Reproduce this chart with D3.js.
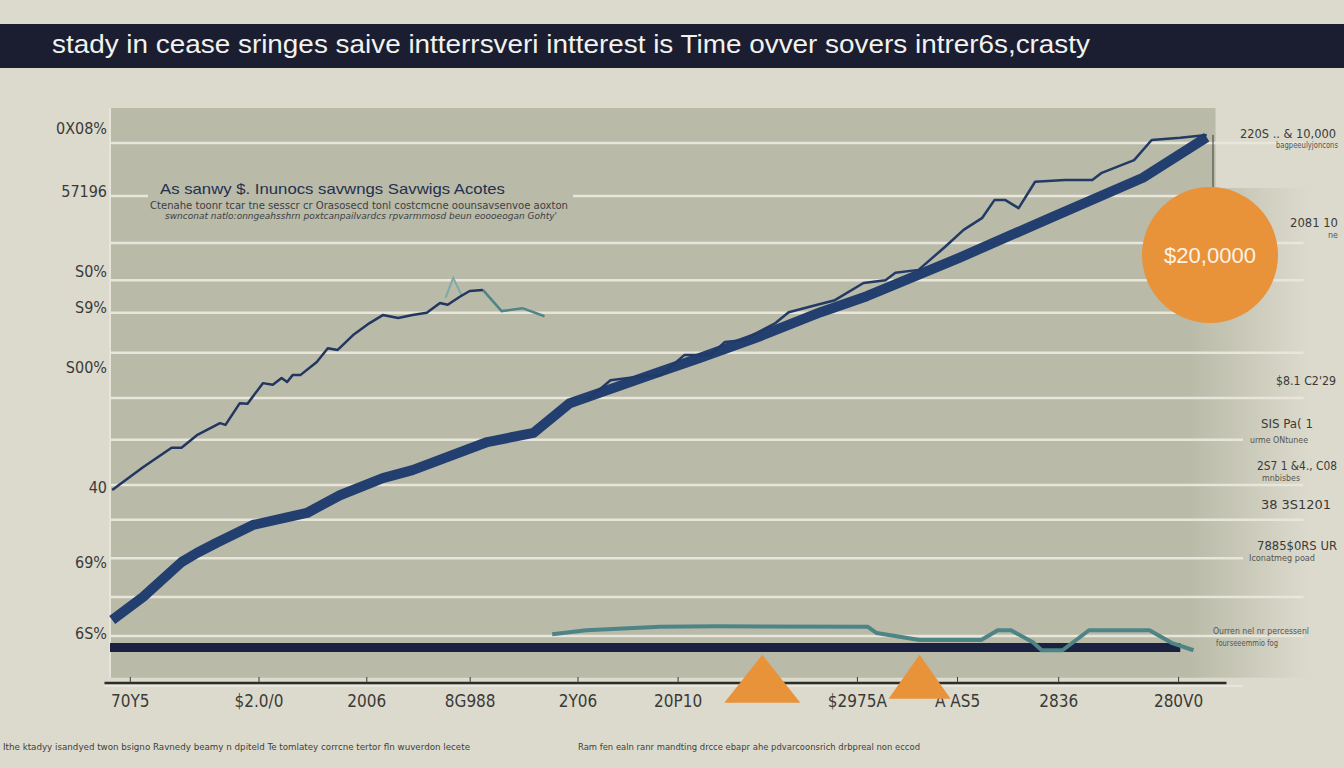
<!DOCTYPE html>
<html>
<head>
<meta charset="utf-8">
<script src="https://cdn.jsdelivr.net/npm/d3@7"></script>
<style>
body { margin: 0; background: #dcdacd; }
svg { display: block; }
</style>
</head>
<body>
<div id="chart-area"></div>
<script>
// ---- data (x: 0-100 along the time axis, y: 0-100 percent) ----
var titleText = "stady in cease sringes saive  intterrsveri  intterest is Time ovver sovers intrer6s,crasty";

var yTickValues = [96.5, 85.5, 71.5, 65.2, 54.7, 33.6, 20.6, 8.2];
var yTickLabels = ["0X08%", "57196", "S0%", "S9%", "S00%", "40", "69%", "6S%"];

var xTickValues = [1.8, 13.5, 23.3, 32.7, 42.5, 51.6, 67.9, 77.0, 86.2, 97.1];
var xTickLabels = ["70Y5", "$2.0/0", "2006", "8G988", "2Y06", "20P10", "$2975A", "A AS5", "2836", "280V0"];

var gridValues = [93.9, 84.6, 76.4, 69.9, 64.2, 57.2, 49.3, 42.0, 34.1, 28.0, 21.3, 14.5, 7.7];

// upper jagged line, left part
var savingsLeft = [
	[0.2, 33.2], [3.0, 37.2], [5.6, 40.6], [6.5, 40.6], [7.9, 42.8], [10.0, 44.9], [10.5, 44.6],
	[11.8, 48.4], [12.5, 48.3], [13.9, 51.9], [14.8, 51.6], [15.6, 52.8], [16.1, 52.1], [16.6, 53.3],
	[17.3, 53.3], [18.8, 55.6], [19.8, 58.0], [20.7, 57.7], [22.1, 60.3], [23.6, 62.4], [24.8, 63.8],
	[26.2, 63.3], [27.5, 63.8], [28.8, 64.2], [30.0, 65.9], [30.7, 65.6], [31.8, 67.0], [32.7, 68.0],
	[33.9, 68.2]
];
// teal tail after the peak
var savingsTail = [[33.9, 68.2], [35.6, 64.5], [37.5, 65.0], [39.5, 63.6]];
var savingsSpike = [[30.5, 66.8], [31.2, 70.3], [32.0, 67.1]];

// upper jagged line, right part
var savingsRight = [
	[43.4, 49.0], [45.5, 52.4], [48.0, 53.0], [50.1, 53.3], [52.2, 56.8], [54.6, 56.8], [55.9, 59.1],
	[57.5, 59.4], [58.8, 60.7], [60.5, 62.4], [61.7, 64.3], [64.3, 65.6], [65.9, 66.4], [68.5, 69.4],
	[70.5, 69.9], [71.4, 71.2], [73.5, 71.7], [75.9, 75.7], [77.6, 78.7], [79.3, 80.8], [80.4, 83.9],
	[81.4, 83.9], [82.6, 82.5], [84.1, 87.1], [86.8, 87.4], [89.3, 87.4], [90.1, 88.6], [93.1, 90.9],
	[94.7, 94.4], [97.3, 94.8], [99.7, 95.3]
];

// thick interest band
var interestBand = [
	[0.2, 10.5], [3.0, 14.5], [6.5, 20.6], [7.9, 22.2], [9.7, 24.0], [13.0, 27.1], [17.9, 29.2],
	[20.9, 32.3], [24.8, 35.3], [27.5, 36.7], [34.3, 41.6], [38.5, 43.2], [41.8, 48.4], [44.5, 50.2],
	[49.1, 53.3], [53.6, 56.3], [59.1, 60.1], [64.6, 64.3], [68.8, 67.1], [77.2, 73.8], [85.5, 80.8],
	[93.9, 87.8], [99.7, 94.9]
];

// low teal line near the baseline
var lowLine = [
	[40.2, 8.0], [43.3, 8.7], [50.0, 9.3], [55.1, 9.4], [68.9, 9.3], [69.7, 8.2], [73.6, 7.0],
	[79.2, 7.0], [80.7, 8.7], [81.9, 8.7], [83.9, 6.6], [84.7, 5.2], [86.6, 5.2], [89.0, 8.7],
	[94.5, 8.7], [96.5, 6.5], [98.5, 5.2]
];
var baseline = [[0, 5.7], [97.3, 5.7]];

var markerXs = [59.3, 73.6];
var bubble = {x: 100, y: 74.3, label: "$20,0000"};

var subtitleLines = [
	"As sanwy $. Inunocs  savwngs  Savwigs  Acotes",
	"Ctenahe toonr tcar tne sesscr cr Orasosecd tonl costcmcne oounsavsenvoe  aoxton",
	"swnconat natlo:onngeahsshrn poxtcanpailvardcs rpvarmmosd beun eoooeogan Gohty'"
];
var sideNotes = ["220S .. & 10,000", "2081 10", "$8.1 C2'29", "SIS Pa( 1", "2S7 1 &4., C08", "38 3S1201", "7885$0RS UR"];
var sideSmall = ["bagpeeulyjoncons", "ne", "urme ONtunee", "mnbisbes", "Iconatmeg poad", "Ourren nel nr percessenl", "fourseeemmio fog"];
var footNotes = [
	"Ithe ktadyy isandyed twon bsigno Ravnedy beamy n dpiteld Te tomlatey corrcne tertor fln wuverdon lecete",
	"Ram fen ealn ranr mandting drcce ebapr ahe pdvarcoonsrich drbpreal non eccod"
];

// ---- layout ----
var W = 1344, H = 768;
var narrow = "'Liberation Sans Narrow', 'DejaVu Sans Condensed', 'Liberation Sans', sans-serif";

var svg = d3.select("#chart-area")
	.append("svg")
	.attr("width", W)
	.attr("height", H);

svg.append("rect").attr("width", W).attr("height", H).attr("fill", "#dcdacd");

var x = d3.scaleLinear().domain([0, 100]).range([110, 1210]);
var y = d3.scaleLinear().domain([0, 100]).range([680, 108]);

// fade for the right side of the plot
var defs = svg.append("defs");
var grad = defs.append("linearGradient").attr("id", "fade");
grad.append("stop").attr("offset", "0%").attr("stop-color", "#b9baa8");
grad.append("stop").attr("offset", "100%").attr("stop-color", "#dcdacd");

// plot background
svg.append("rect")
	.attr("x", x(0)).attr("y", y(100))
	.attr("width", x(98) - x(0)).attr("height", y(0.4) - y(100))
	.attr("fill", "#b9baa8");
svg.append("rect")
	.attr("x", x(98)).attr("y", y(86))
	.attr("width", x(109) - x(98)).attr("height", y(0.4) - y(86))
	.attr("fill", "url(#fade)");
svg.append("rect")
	.attr("x", x(98)).attr("y", y(100))
	.attr("width", x(100.5) - x(98)).attr("height", y(86) - y(100))
	.attr("fill", "#b9baa8");

// gridlines
svg.selectAll(".grid")
	.data(gridValues)
	.enter()
	.append("line")
	.attr("class", "grid")
	.attr("x1", x(0))
	.attr("x2", function (d, i) { return i % 3 == 1 ? x(103) : x(108.5); })
	.attr("y1", function (d) { return y(d); })
	.attr("y2", function (d) { return y(d); })
	.attr("stroke", "#e8e6da")
	.attr("stroke-width", 2.5);

// left edge of plot
svg.append("line")
	.attr("x1", x(0)).attr("x2", x(0))
	.attr("y1", y(100)).attr("y2", y(0.4))
	.attr("stroke", "#e6e4d8").attr("stroke-width", 2);

// title bar
svg.append("rect").attr("x", 0).attr("y", 24).attr("width", W).attr("height", 44).attr("fill", "#1b1d31");
svg.append("text")
	.attr("x", 52).attr("y", 53)
	.attr("fill", "#f2f2ee")
	.attr("font-family", "'Liberation Sans', Arial, sans-serif")
	.attr("font-size", "25px")
	.attr("textLength", 1038)
	.attr("lengthAdjust", "spacingAndGlyphs")
	.text(titleText);

// subtitle block (covers the gridline behind it)
svg.append("rect").attr("x", 148).attr("y", 178).attr("width", 425).attr("height", 44).attr("fill", "#b9baa8");
svg.append("text")
	.attr("x", 160).attr("y", 194)
	.attr("fill", "#24304e")
	.attr("font-family", "'Liberation Sans', Arial, sans-serif")
	.attr("font-size", "15px")
	.attr("textLength", 345).attr("lengthAdjust", "spacingAndGlyphs")
	.text(subtitleLines[0]);
svg.append("text")
	.attr("x", 150).attr("y", 209)
	.attr("fill", "#3c3f45")
	.attr("font-family", narrow).attr("font-size", "10px")
	.attr("textLength", 418).attr("lengthAdjust", "spacingAndGlyphs")
	.text(subtitleLines[1]);
svg.append("text")
	.attr("x", 165).attr("y", 219)
	.attr("fill", "#3c3f45")
	.attr("font-family", narrow).attr("font-size", "9px")
	.attr("font-style", "italic")
	.attr("textLength", 392).attr("lengthAdjust", "spacingAndGlyphs")
	.text(subtitleLines[2]);

var line = d3.line()
	.x(function (d) { return x(d[0]); })
	.y(function (d) { return y(d[1]); });

// navy baseline bar
svg.append("path")
	.attr("d", line(baseline))
	.attr("fill", "none")
	.attr("stroke", "#1b2141")
	.attr("stroke-width", 9);

// low teal line
svg.append("path")
	.attr("d", line(lowLine))
	.attr("fill", "none")
	.attr("stroke", "#4e8486")
	.attr("stroke-width", 4)
	.attr("stroke-linejoin", "round");

// thick band
svg.append("path")
	.attr("d", line(interestBand))
	.attr("fill", "none")
	.attr("stroke", "#223f6f")
	.attr("stroke-width", 10)
	.attr("stroke-linejoin", "round");

// jagged savings lines
svg.append("path")
	.attr("d", line(savingsSpike))
	.attr("fill", "none").attr("stroke", "#7fa8a6").attr("stroke-width", 2);
svg.append("path")
	.attr("d", line(savingsTail))
	.attr("fill", "none").attr("stroke", "#4d8588").attr("stroke-width", 2.5);
svg.append("path")
	.attr("d", line(savingsLeft))
	.attr("fill", "none").attr("stroke", "#213660").attr("stroke-width", 2.5)
	.attr("stroke-linejoin", "round");
svg.append("path")
	.attr("d", line(savingsRight))
	.attr("fill", "none").attr("stroke", "#213a66").attr("stroke-width", 2.5)
	.attr("stroke-linejoin", "round");

// y axis labels
var yAxis = svg.append("g")
	.attr("class", "y axis")
	.attr("transform", "translate(" + x(0) + ",0)")
	.call(d3.axisLeft(y).tickValues(yTickValues)
		.tickFormat(function (d, i) { return yTickLabels[i]; })
		.tickSize(0).tickPadding(3));
yAxis.select(".domain").remove();
yAxis.selectAll("text")
	.attr("fill", "#3a3a38")
	.attr("font-family", narrow)
	.attr("font-size", "16px");

// x axis
svg.append("line")
	.attr("x1", x(-0.5)).attr("x2", x(101.5))
	.attr("y1", 683).attr("y2", 683)
	.attr("stroke", "#2c2c2a").attr("stroke-width", 2.5);
svg.append("line")
	.attr("x1", x(-0.5)).attr("x2", x(103))
	.attr("y1", 686).attr("y2", 686)
	.attr("stroke", "#ecebe2").attr("stroke-width", 1.5);
var xAxis = svg.append("g")
	.attr("class", "x axis")
	.attr("transform", "translate(0,683)")
	.call(d3.axisBottom(x).tickValues(xTickValues)
		.tickFormat(function (d, i) { return xTickLabels[i]; })
		.tickSize(-6).tickPadding(12));
xAxis.select(".domain").remove();
xAxis.selectAll("line").attr("stroke", "#3a3a38");
xAxis.selectAll("text")
	.attr("fill", "#3a3a38")
	.attr("font-family", narrow)
	.attr("font-size", "17px");

// orange triangle markers
var triSizes = [[38, 48], [31, 44]];
svg.selectAll(".marker")
	.data(markerXs)
	.enter()
	.append("path")
	.attr("class", "marker")
	.attr("d", function (d, i) {
		var cx = x(d), top = y(4.4), w = triSizes[i][0], h = triSizes[i][1];
		return "M" + cx + "," + top + "L" + (cx + w) + "," + (top + h) + "L" + (cx - w) + "," + (top + h) + "Z";
	})
	.attr("fill", "#e8923a");

// bubble with connector
svg.append("line")
	.attr("x1", x(bubble.x) + 3).attr("x2", x(bubble.x) + 3)
	.attr("y1", y(95.3)).attr("y2", y(bubble.y) - 68)
	.attr("stroke", "#3a3a38").attr("stroke-width", 1);
svg.append("circle")
	.attr("cx", x(bubble.x)).attr("cy", y(bubble.y))
	.attr("r", 68)
	.attr("fill", "#e8923a");
svg.append("text")
	.attr("x", x(bubble.x)).attr("y", y(bubble.y) + 8)
	.attr("text-anchor", "middle")
	.attr("fill", "#fbf3e6")
	.attr("font-family", "'Liberation Sans', Arial, sans-serif")
	.attr("font-size", "22px")
	.text(bubble.label);

// side notes (x, baseline, fitted width)
var notePos = [[1240, 138, 96], [1290, 227, 48], [1276, 385, 60], [1261, 428, 52], [1257, 470, 80], [1261, 509, 70], [1257, 550, 80]];
svg.selectAll(".note")
	.data(sideNotes)
	.enter()
	.append("text")
	.attr("class", "note")
	.attr("x", function (d, i) { return notePos[i][0]; })
	.attr("y", function (d, i) { return notePos[i][1]; })
	.attr("textLength", function (d, i) { return notePos[i][2]; })
	.attr("lengthAdjust", "spacingAndGlyphs")
	.attr("fill", "#3a3a38")
	.attr("font-family", narrow)
	.attr("font-size", "13px")
	.text(function (d) { return d; });

var smallPos = [[1276, 148, 62], [1328, 238, 10], [1250, 443, 58], [1262, 481, 38], [1249, 561, 66], [1213, 634, 96], [1216, 646, 62]];
svg.selectAll(".small")
	.data(sideSmall)
	.enter()
	.append("text")
	.attr("class", "small")
	.attr("x", function (d, i) { return smallPos[i][0]; })
	.attr("y", function (d, i) { return smallPos[i][1]; })
	.attr("textLength", function (d, i) { return smallPos[i][2]; })
	.attr("lengthAdjust", "spacingAndGlyphs")
	.attr("fill", "#55554f")
	.attr("font-family", narrow)
	.attr("font-size", "8px")
	.text(function (d) { return d; });

// footnotes
var footPos = [[3, 750, 467], [578, 750, 342]];
svg.selectAll(".foot")
	.data(footNotes)
	.enter()
	.append("text")
	.attr("class", "foot")
	.attr("x", function (d, i) { return footPos[i][0]; })
	.attr("y", function (d, i) { return footPos[i][1]; })
	.attr("textLength", function (d, i) { return footPos[i][2]; })
	.attr("lengthAdjust", "spacingAndGlyphs")
	.attr("fill", "#3e3e3a")
	.attr("font-family", narrow)
	.attr("font-size", "9px")
	.text(function (d) { return d; });
</script>
</body>
</html>
